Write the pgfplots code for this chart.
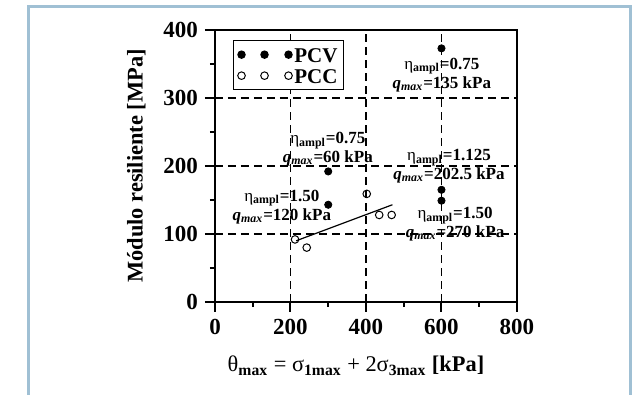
\documentclass[border=0pt]{standalone}
\usepackage{pgfplots}
\pgfplotsset{compat=1.18}
\usepackage{fontspec}
\setmainfont{Liberation Serif}
\definecolor{framecol}{RGB}{160,192,212}
\newcommand{\ann}[2]{η\textsubscript{\bfseries ampl}\textbf{=#1}\\\textbf{\textit{q}}\textsubscript{\bfseries\itshape max}\textbf{=#2 kPa}}
\begin{document}
\begin{tikzpicture}
\useasboundingbox (0,0) rectangle (316.5pt,197.5pt);
\draw[framecol, line width=1.5pt] (14.25pt,-5pt) -- (14.25pt,194.25pt) -- (315pt,194.25pt) -- (315pt,-5pt);
\begin{axis}[
 at={(107.5pt,46.5pt)}, anchor=south west,
 scale only axis, width=151pt, height=136pt,
 xmin=0,xmax=800,ymin=0,ymax=400,
 xtick={0,200,...,800}, ytick={0,100,...,400},
 minor x tick num=1, minor y tick num=1,
 xtick pos=left, ytick pos=left, tick align=outside,
 major tick length=5pt, minor tick length=2.5pt,
 every tick/.style={black, line width=1pt},
 axis line style={line width=1.25pt},
 grid=major, major grid style={black, line width=0.6pt, dash pattern=on 4pt off 2.5pt},
 ticklabel style={font=\fontsize{11.5}{13}\selectfont\bfseries},
 /pgf/number format/assume math mode=true,
 xlabel={θ\textsubscript{\bfseries max} = σ\textsubscript{\bfseries 1max} + 2σ\textsubscript{\bfseries 3max} \textbf{[kPa]}},
 ylabel={\bfseries Módulo resiliente [MPa]},
 label style={font=\fontsize{11.2}{13}\selectfont},
 xlabel style={yshift=-4pt, xshift=-5pt},
 ylabel style={yshift=2pt},
 legend style={at={(0.06,0.963)}, anchor=north west, draw=black, line width=0.6pt,
   font=\fontsize{10.5}{12}\selectfont\bfseries, inner xsep=2pt, inner ysep=1.75pt,
   nodes={inner xsep=1pt, inner ysep=1.5pt, text height=7.5pt, text depth=0pt}, row sep=0pt},
 legend cell align=left,
 legend image code/.code={\draw[mark repeat=1,mark phase=1,#1] plot coordinates {(0pt,0pt) (11.5pt,0pt) (23.5pt,0pt)};},
]
\addplot[only marks, mark=*, mark size=1.8pt, black] coordinates {(600,373) (300,192) (300,143) (600,165) (600,149)};
\addlegendentry{PCV}
\addplot[only marks, mark=o, mark size=1.9pt, black, mark options={line width=0.5pt}] coordinates {(212,92) (243,80) (402,159) (435,128) (468,128)};
\addlegendentry{PCC}
\addplot[black, line width=0.6pt, forget plot] coordinates {(215,90) (470,143)};
\begin{scope}[every node/.style={font=\fontsize{8.5}{9.5}\selectfont, align=center, inner sep=0pt}]
\node at (axis cs:601,334) {\ann{0.75}{135}};
\node at (axis cs:299,225) {\ann{0.75}{60}};
\node at (axis cs:620,199) {\ann{1.125}{202.5}};
\node at (axis cs:177,140) {\ann{1.50}{120}};
\node at (axis cs:636,114) {\ann{1.50}{270}};
\end{scope}
\end{axis}
\end{tikzpicture}
\end{document}
